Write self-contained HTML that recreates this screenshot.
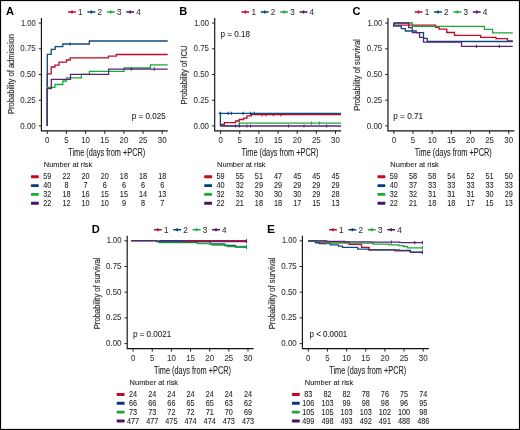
<!DOCTYPE html>
<html><head><meta charset="utf-8"><style>
html,body{margin:0;padding:0;background:#fff;}
svg{display:block;will-change:transform;}
text{font-family:"Liberation Sans",sans-serif;}
</style></head><body>
<svg width="520" height="430" viewBox="0 0 520 430">
<rect x="0" y="0" width="520" height="430" fill="#fff"/>
<g transform="translate(0,0)">
<text x="6.00" y="15.10" font-size="10.8" fill="#000" textLength="8.00" lengthAdjust="spacingAndGlyphs" font-weight="bold">A</text>
<path d="M68.10,12.1H75.90M72.00,10.6V13.6" stroke="#be0a22" stroke-width="1.5" fill="none"/>
<text x="78.10" y="15.00" font-size="8.2" fill="#333" stroke="#333" stroke-width="0.08">1</text>
<path d="M87.50,12.1H95.30M91.40,10.6V13.6" stroke="#053d76" stroke-width="1.5" fill="none"/>
<text x="97.50" y="15.00" font-size="8.2" fill="#333" stroke="#333" stroke-width="0.08">2</text>
<path d="M106.90,12.1H114.70M110.80,10.6V13.6" stroke="#1aa836" stroke-width="1.5" fill="none"/>
<text x="116.90" y="15.00" font-size="8.2" fill="#333" stroke="#333" stroke-width="0.08">3</text>
<path d="M126.30,12.1H134.10M130.20,10.6V13.6" stroke="#4c1264" stroke-width="1.5" fill="none"/>
<text x="136.30" y="15.00" font-size="8.2" fill="#333" stroke="#333" stroke-width="0.08">4</text>
<path d="M41.4,18.0V130.9H167.8" stroke="#111" stroke-width="1.15" fill="none"/>
<path d="M38.7,125.90H41.4" stroke="#222" stroke-width="1.0"/>
<text x="35.70" y="128.50" font-size="9.0" fill="#333" stroke="#333" stroke-width="0.08" text-anchor="end" textLength="15.40" lengthAdjust="spacingAndGlyphs">0.00</text>
<path d="M38.7,100.20H41.4" stroke="#222" stroke-width="1.0"/>
<text x="35.70" y="102.80" font-size="9.0" fill="#333" stroke="#333" stroke-width="0.08" text-anchor="end" textLength="15.40" lengthAdjust="spacingAndGlyphs">0.25</text>
<path d="M38.7,74.50H41.4" stroke="#222" stroke-width="1.0"/>
<text x="35.70" y="77.10" font-size="9.0" fill="#333" stroke="#333" stroke-width="0.08" text-anchor="end" textLength="15.40" lengthAdjust="spacingAndGlyphs">0.50</text>
<path d="M38.7,48.80H41.4" stroke="#222" stroke-width="1.0"/>
<text x="35.70" y="51.40" font-size="9.0" fill="#333" stroke="#333" stroke-width="0.08" text-anchor="end" textLength="15.40" lengthAdjust="spacingAndGlyphs">0.75</text>
<path d="M38.7,23.10H41.4" stroke="#222" stroke-width="1.0"/>
<text x="35.70" y="25.70" font-size="9.0" fill="#333" stroke="#333" stroke-width="0.08" text-anchor="end" textLength="14.80" lengthAdjust="spacingAndGlyphs">1.00</text>
<path d="M47.30,130.9V133.9" stroke="#222" stroke-width="1.0"/>
<text x="47.30" y="143.20" font-size="9.0" fill="#333" stroke="#333" stroke-width="0.08" text-anchor="middle" textLength="4.40" lengthAdjust="spacingAndGlyphs">0</text>
<path d="M66.45,130.9V133.9" stroke="#222" stroke-width="1.0"/>
<text x="66.45" y="143.20" font-size="9.0" fill="#333" stroke="#333" stroke-width="0.08" text-anchor="middle" textLength="4.40" lengthAdjust="spacingAndGlyphs">5</text>
<path d="M85.60,130.9V133.9" stroke="#222" stroke-width="1.0"/>
<text x="85.60" y="143.20" font-size="9.0" fill="#333" stroke="#333" stroke-width="0.08" text-anchor="middle" textLength="8.80" lengthAdjust="spacingAndGlyphs">10</text>
<path d="M104.75,130.9V133.9" stroke="#222" stroke-width="1.0"/>
<text x="104.75" y="143.20" font-size="9.0" fill="#333" stroke="#333" stroke-width="0.08" text-anchor="middle" textLength="8.80" lengthAdjust="spacingAndGlyphs">15</text>
<path d="M123.90,130.9V133.9" stroke="#222" stroke-width="1.0"/>
<text x="123.90" y="143.20" font-size="9.0" fill="#333" stroke="#333" stroke-width="0.08" text-anchor="middle" textLength="8.80" lengthAdjust="spacingAndGlyphs">20</text>
<path d="M143.05,130.9V133.9" stroke="#222" stroke-width="1.0"/>
<text x="143.05" y="143.20" font-size="9.0" fill="#333" stroke="#333" stroke-width="0.08" text-anchor="middle" textLength="8.80" lengthAdjust="spacingAndGlyphs">25</text>
<path d="M162.20,130.9V133.9" stroke="#222" stroke-width="1.0"/>
<text x="162.20" y="143.20" font-size="9.0" fill="#333" stroke="#333" stroke-width="0.08" text-anchor="middle" textLength="8.80" lengthAdjust="spacingAndGlyphs">30</text>
<text x="68.20" y="156.20" font-size="10.0" fill="#222" stroke="#222" stroke-width="0.08" textLength="77.00" lengthAdjust="spacingAndGlyphs">Time (days from +PCR)</text>
<text x="43.80" y="167.30" font-size="7.5" fill="#222" stroke="#222" stroke-width="0.08" textLength="48.50" lengthAdjust="spacingAndGlyphs">Number at risk</text>
<text transform="translate(13.8,74) rotate(-90)" x="0" y="0" font-size="9.5" fill="#333" stroke="#333" stroke-width="0.2" text-anchor="middle" textLength="80" lengthAdjust="spacingAndGlyphs">Probability of admission</text>
<text x="131.80" y="119.20" font-size="8.5" fill="#222" stroke="#222" stroke-width="0.08" textLength="34.00" lengthAdjust="spacingAndGlyphs">p = 0.025</text>
<rect x="30.9" y="175.30" width="7.9" height="2.9" rx="0.7" fill="#be0a22"/>
<text x="47.30" y="179.35" font-size="8.5" fill="#222" stroke="#222" stroke-width="0.08" text-anchor="middle" textLength="8.10" lengthAdjust="spacingAndGlyphs">59</text>
<text x="66.45" y="179.35" font-size="8.5" fill="#222" stroke="#222" stroke-width="0.08" text-anchor="middle" textLength="8.10" lengthAdjust="spacingAndGlyphs">22</text>
<text x="85.60" y="179.35" font-size="8.5" fill="#222" stroke="#222" stroke-width="0.08" text-anchor="middle" textLength="8.10" lengthAdjust="spacingAndGlyphs">20</text>
<text x="104.75" y="179.35" font-size="8.5" fill="#222" stroke="#222" stroke-width="0.08" text-anchor="middle" textLength="8.10" lengthAdjust="spacingAndGlyphs">20</text>
<text x="123.90" y="179.35" font-size="8.5" fill="#222" stroke="#222" stroke-width="0.08" text-anchor="middle" textLength="8.10" lengthAdjust="spacingAndGlyphs">18</text>
<text x="143.05" y="179.35" font-size="8.5" fill="#222" stroke="#222" stroke-width="0.08" text-anchor="middle" textLength="8.10" lengthAdjust="spacingAndGlyphs">18</text>
<text x="162.20" y="179.35" font-size="8.5" fill="#222" stroke="#222" stroke-width="0.08" text-anchor="middle" textLength="8.10" lengthAdjust="spacingAndGlyphs">18</text>
<rect x="30.9" y="184.15" width="7.9" height="2.9" rx="0.7" fill="#053d76"/>
<text x="47.30" y="188.20" font-size="8.5" fill="#222" stroke="#222" stroke-width="0.08" text-anchor="middle" textLength="8.10" lengthAdjust="spacingAndGlyphs">40</text>
<text x="66.45" y="188.20" font-size="8.5" fill="#222" stroke="#222" stroke-width="0.08" text-anchor="middle" textLength="4.05" lengthAdjust="spacingAndGlyphs">8</text>
<text x="85.60" y="188.20" font-size="8.5" fill="#222" stroke="#222" stroke-width="0.08" text-anchor="middle" textLength="4.05" lengthAdjust="spacingAndGlyphs">7</text>
<text x="104.75" y="188.20" font-size="8.5" fill="#222" stroke="#222" stroke-width="0.08" text-anchor="middle" textLength="4.05" lengthAdjust="spacingAndGlyphs">6</text>
<text x="123.90" y="188.20" font-size="8.5" fill="#222" stroke="#222" stroke-width="0.08" text-anchor="middle" textLength="4.05" lengthAdjust="spacingAndGlyphs">6</text>
<text x="143.05" y="188.20" font-size="8.5" fill="#222" stroke="#222" stroke-width="0.08" text-anchor="middle" textLength="4.05" lengthAdjust="spacingAndGlyphs">6</text>
<text x="162.20" y="188.20" font-size="8.5" fill="#222" stroke="#222" stroke-width="0.08" text-anchor="middle" textLength="4.05" lengthAdjust="spacingAndGlyphs">6</text>
<rect x="30.9" y="192.95" width="7.9" height="2.9" rx="0.7" fill="#1aa836"/>
<text x="47.30" y="197.00" font-size="8.5" fill="#222" stroke="#222" stroke-width="0.08" text-anchor="middle" textLength="8.10" lengthAdjust="spacingAndGlyphs">32</text>
<text x="66.45" y="197.00" font-size="8.5" fill="#222" stroke="#222" stroke-width="0.08" text-anchor="middle" textLength="8.10" lengthAdjust="spacingAndGlyphs">18</text>
<text x="85.60" y="197.00" font-size="8.5" fill="#222" stroke="#222" stroke-width="0.08" text-anchor="middle" textLength="8.10" lengthAdjust="spacingAndGlyphs">16</text>
<text x="104.75" y="197.00" font-size="8.5" fill="#222" stroke="#222" stroke-width="0.08" text-anchor="middle" textLength="8.10" lengthAdjust="spacingAndGlyphs">15</text>
<text x="123.90" y="197.00" font-size="8.5" fill="#222" stroke="#222" stroke-width="0.08" text-anchor="middle" textLength="8.10" lengthAdjust="spacingAndGlyphs">15</text>
<text x="143.05" y="197.00" font-size="8.5" fill="#222" stroke="#222" stroke-width="0.08" text-anchor="middle" textLength="8.10" lengthAdjust="spacingAndGlyphs">14</text>
<text x="162.20" y="197.00" font-size="8.5" fill="#222" stroke="#222" stroke-width="0.08" text-anchor="middle" textLength="8.10" lengthAdjust="spacingAndGlyphs">13</text>
<rect x="30.9" y="201.80" width="7.9" height="2.9" rx="0.7" fill="#4c1264"/>
<text x="47.30" y="205.85" font-size="8.5" fill="#222" stroke="#222" stroke-width="0.08" text-anchor="middle" textLength="8.10" lengthAdjust="spacingAndGlyphs">22</text>
<text x="66.45" y="205.85" font-size="8.5" fill="#222" stroke="#222" stroke-width="0.08" text-anchor="middle" textLength="8.10" lengthAdjust="spacingAndGlyphs">12</text>
<text x="85.60" y="205.85" font-size="8.5" fill="#222" stroke="#222" stroke-width="0.08" text-anchor="middle" textLength="8.10" lengthAdjust="spacingAndGlyphs">10</text>
<text x="104.75" y="205.85" font-size="8.5" fill="#222" stroke="#222" stroke-width="0.08" text-anchor="middle" textLength="8.10" lengthAdjust="spacingAndGlyphs">10</text>
<text x="123.90" y="205.85" font-size="8.5" fill="#222" stroke="#222" stroke-width="0.08" text-anchor="middle" textLength="4.05" lengthAdjust="spacingAndGlyphs">9</text>
<text x="143.05" y="205.85" font-size="8.5" fill="#222" stroke="#222" stroke-width="0.08" text-anchor="middle" textLength="4.05" lengthAdjust="spacingAndGlyphs">8</text>
<text x="162.20" y="205.85" font-size="8.5" fill="#222" stroke="#222" stroke-width="0.08" text-anchor="middle" textLength="4.05" lengthAdjust="spacingAndGlyphs">7</text>
<path d="M47.3,125.9V73.8H51.2V67H54.9V65.2H59V62.1H66.5V60H70.2V57.9H108.4V56.2H116.3V54.5H167.7" stroke="#be0a22" stroke-width="1.3" fill="none"/>
<path d="M47.3,125.9V54.4H51.2V49.3H55.1V46.6H62.8V44H89.3V41H167.7" stroke="#0f4a80" stroke-width="1.3" fill="none"/>
<path d="M70.00,42.40V45.60" stroke="#0f4a80" stroke-width="1.1" fill="none"/>
<path d="M47.3,125.9V87.3H54.9V84.5H62.8V81H66.5V77.8H81.4V74.4H89.4V71.4H124V68H150.5V64.9H167.7" stroke="#1aa836" stroke-width="1.3" fill="none"/>
<path d="M47.3,125.9V88.7H51.3V79.4H70.5V74.4H108.6V69.2H167.7" stroke="#5a2478" stroke-width="1.3" fill="none"/>
<path d="M131.30,67.60V70.80M154.30,67.60V70.80" stroke="#5a2478" stroke-width="1.1" fill="none"/>
</g>
<g transform="translate(173.3,0)">
<text x="6.00" y="15.10" font-size="10.8" fill="#000" textLength="8.00" lengthAdjust="spacingAndGlyphs" font-weight="bold">B</text>
<path d="M68.10,12.1H75.90M72.00,10.6V13.6" stroke="#be0a22" stroke-width="1.5" fill="none"/>
<text x="78.10" y="15.00" font-size="8.2" fill="#333" stroke="#333" stroke-width="0.08">1</text>
<path d="M87.50,12.1H95.30M91.40,10.6V13.6" stroke="#053d76" stroke-width="1.5" fill="none"/>
<text x="97.50" y="15.00" font-size="8.2" fill="#333" stroke="#333" stroke-width="0.08">2</text>
<path d="M106.90,12.1H114.70M110.80,10.6V13.6" stroke="#1aa836" stroke-width="1.5" fill="none"/>
<text x="116.90" y="15.00" font-size="8.2" fill="#333" stroke="#333" stroke-width="0.08">3</text>
<path d="M126.30,12.1H134.10M130.20,10.6V13.6" stroke="#4c1264" stroke-width="1.5" fill="none"/>
<text x="136.30" y="15.00" font-size="8.2" fill="#333" stroke="#333" stroke-width="0.08">4</text>
<path d="M41.4,18.0V130.9H167.8" stroke="#111" stroke-width="1.15" fill="none"/>
<path d="M38.7,125.90H41.4" stroke="#222" stroke-width="1.0"/>
<text x="35.70" y="128.50" font-size="9.0" fill="#333" stroke="#333" stroke-width="0.08" text-anchor="end" textLength="15.40" lengthAdjust="spacingAndGlyphs">0.00</text>
<path d="M38.7,100.20H41.4" stroke="#222" stroke-width="1.0"/>
<text x="35.70" y="102.80" font-size="9.0" fill="#333" stroke="#333" stroke-width="0.08" text-anchor="end" textLength="15.40" lengthAdjust="spacingAndGlyphs">0.25</text>
<path d="M38.7,74.50H41.4" stroke="#222" stroke-width="1.0"/>
<text x="35.70" y="77.10" font-size="9.0" fill="#333" stroke="#333" stroke-width="0.08" text-anchor="end" textLength="15.40" lengthAdjust="spacingAndGlyphs">0.50</text>
<path d="M38.7,48.80H41.4" stroke="#222" stroke-width="1.0"/>
<text x="35.70" y="51.40" font-size="9.0" fill="#333" stroke="#333" stroke-width="0.08" text-anchor="end" textLength="15.40" lengthAdjust="spacingAndGlyphs">0.75</text>
<path d="M38.7,23.10H41.4" stroke="#222" stroke-width="1.0"/>
<text x="35.70" y="25.70" font-size="9.0" fill="#333" stroke="#333" stroke-width="0.08" text-anchor="end" textLength="14.80" lengthAdjust="spacingAndGlyphs">1.00</text>
<path d="M47.30,130.9V133.9" stroke="#222" stroke-width="1.0"/>
<text x="47.30" y="143.20" font-size="9.0" fill="#333" stroke="#333" stroke-width="0.08" text-anchor="middle" textLength="4.40" lengthAdjust="spacingAndGlyphs">0</text>
<path d="M66.45,130.9V133.9" stroke="#222" stroke-width="1.0"/>
<text x="66.45" y="143.20" font-size="9.0" fill="#333" stroke="#333" stroke-width="0.08" text-anchor="middle" textLength="4.40" lengthAdjust="spacingAndGlyphs">5</text>
<path d="M85.60,130.9V133.9" stroke="#222" stroke-width="1.0"/>
<text x="85.60" y="143.20" font-size="9.0" fill="#333" stroke="#333" stroke-width="0.08" text-anchor="middle" textLength="8.80" lengthAdjust="spacingAndGlyphs">10</text>
<path d="M104.75,130.9V133.9" stroke="#222" stroke-width="1.0"/>
<text x="104.75" y="143.20" font-size="9.0" fill="#333" stroke="#333" stroke-width="0.08" text-anchor="middle" textLength="8.80" lengthAdjust="spacingAndGlyphs">15</text>
<path d="M123.90,130.9V133.9" stroke="#222" stroke-width="1.0"/>
<text x="123.90" y="143.20" font-size="9.0" fill="#333" stroke="#333" stroke-width="0.08" text-anchor="middle" textLength="8.80" lengthAdjust="spacingAndGlyphs">20</text>
<path d="M143.05,130.9V133.9" stroke="#222" stroke-width="1.0"/>
<text x="143.05" y="143.20" font-size="9.0" fill="#333" stroke="#333" stroke-width="0.08" text-anchor="middle" textLength="8.80" lengthAdjust="spacingAndGlyphs">25</text>
<path d="M162.20,130.9V133.9" stroke="#222" stroke-width="1.0"/>
<text x="162.20" y="143.20" font-size="9.0" fill="#333" stroke="#333" stroke-width="0.08" text-anchor="middle" textLength="8.80" lengthAdjust="spacingAndGlyphs">30</text>
<text x="68.20" y="156.20" font-size="10.0" fill="#222" stroke="#222" stroke-width="0.08" textLength="77.00" lengthAdjust="spacingAndGlyphs">Time (days from +PCR)</text>
<text x="43.80" y="167.30" font-size="7.5" fill="#222" stroke="#222" stroke-width="0.08" textLength="48.50" lengthAdjust="spacingAndGlyphs">Number at risk</text>
<text transform="translate(13.8,75) rotate(-90)" x="0" y="0" font-size="9.5" fill="#333" stroke="#333" stroke-width="0.2" text-anchor="middle" textLength="58.8" lengthAdjust="spacingAndGlyphs">Probability of ICU</text>
<text x="47.10" y="37.00" font-size="8.5" fill="#222" stroke="#222" stroke-width="0.08" textLength="29.60" lengthAdjust="spacingAndGlyphs">p = 0.18</text>
<rect x="30.9" y="175.30" width="7.9" height="2.9" rx="0.7" fill="#be0a22"/>
<text x="47.30" y="179.35" font-size="8.5" fill="#222" stroke="#222" stroke-width="0.08" text-anchor="middle" textLength="8.10" lengthAdjust="spacingAndGlyphs">59</text>
<text x="66.45" y="179.35" font-size="8.5" fill="#222" stroke="#222" stroke-width="0.08" text-anchor="middle" textLength="8.10" lengthAdjust="spacingAndGlyphs">55</text>
<text x="85.60" y="179.35" font-size="8.5" fill="#222" stroke="#222" stroke-width="0.08" text-anchor="middle" textLength="8.10" lengthAdjust="spacingAndGlyphs">51</text>
<text x="104.75" y="179.35" font-size="8.5" fill="#222" stroke="#222" stroke-width="0.08" text-anchor="middle" textLength="8.10" lengthAdjust="spacingAndGlyphs">47</text>
<text x="123.90" y="179.35" font-size="8.5" fill="#222" stroke="#222" stroke-width="0.08" text-anchor="middle" textLength="8.10" lengthAdjust="spacingAndGlyphs">45</text>
<text x="143.05" y="179.35" font-size="8.5" fill="#222" stroke="#222" stroke-width="0.08" text-anchor="middle" textLength="8.10" lengthAdjust="spacingAndGlyphs">45</text>
<text x="162.20" y="179.35" font-size="8.5" fill="#222" stroke="#222" stroke-width="0.08" text-anchor="middle" textLength="8.10" lengthAdjust="spacingAndGlyphs">45</text>
<rect x="30.9" y="184.15" width="7.9" height="2.9" rx="0.7" fill="#053d76"/>
<text x="47.30" y="188.20" font-size="8.5" fill="#222" stroke="#222" stroke-width="0.08" text-anchor="middle" textLength="8.10" lengthAdjust="spacingAndGlyphs">40</text>
<text x="66.45" y="188.20" font-size="8.5" fill="#222" stroke="#222" stroke-width="0.08" text-anchor="middle" textLength="8.10" lengthAdjust="spacingAndGlyphs">32</text>
<text x="85.60" y="188.20" font-size="8.5" fill="#222" stroke="#222" stroke-width="0.08" text-anchor="middle" textLength="8.10" lengthAdjust="spacingAndGlyphs">29</text>
<text x="104.75" y="188.20" font-size="8.5" fill="#222" stroke="#222" stroke-width="0.08" text-anchor="middle" textLength="8.10" lengthAdjust="spacingAndGlyphs">29</text>
<text x="123.90" y="188.20" font-size="8.5" fill="#222" stroke="#222" stroke-width="0.08" text-anchor="middle" textLength="8.10" lengthAdjust="spacingAndGlyphs">29</text>
<text x="143.05" y="188.20" font-size="8.5" fill="#222" stroke="#222" stroke-width="0.08" text-anchor="middle" textLength="8.10" lengthAdjust="spacingAndGlyphs">29</text>
<text x="162.20" y="188.20" font-size="8.5" fill="#222" stroke="#222" stroke-width="0.08" text-anchor="middle" textLength="8.10" lengthAdjust="spacingAndGlyphs">29</text>
<rect x="30.9" y="192.95" width="7.9" height="2.9" rx="0.7" fill="#1aa836"/>
<text x="47.30" y="197.00" font-size="8.5" fill="#222" stroke="#222" stroke-width="0.08" text-anchor="middle" textLength="8.10" lengthAdjust="spacingAndGlyphs">32</text>
<text x="66.45" y="197.00" font-size="8.5" fill="#222" stroke="#222" stroke-width="0.08" text-anchor="middle" textLength="8.10" lengthAdjust="spacingAndGlyphs">32</text>
<text x="85.60" y="197.00" font-size="8.5" fill="#222" stroke="#222" stroke-width="0.08" text-anchor="middle" textLength="8.10" lengthAdjust="spacingAndGlyphs">30</text>
<text x="104.75" y="197.00" font-size="8.5" fill="#222" stroke="#222" stroke-width="0.08" text-anchor="middle" textLength="8.10" lengthAdjust="spacingAndGlyphs">30</text>
<text x="123.90" y="197.00" font-size="8.5" fill="#222" stroke="#222" stroke-width="0.08" text-anchor="middle" textLength="8.10" lengthAdjust="spacingAndGlyphs">30</text>
<text x="143.05" y="197.00" font-size="8.5" fill="#222" stroke="#222" stroke-width="0.08" text-anchor="middle" textLength="8.10" lengthAdjust="spacingAndGlyphs">29</text>
<text x="162.20" y="197.00" font-size="8.5" fill="#222" stroke="#222" stroke-width="0.08" text-anchor="middle" textLength="8.10" lengthAdjust="spacingAndGlyphs">28</text>
<rect x="30.9" y="201.80" width="7.9" height="2.9" rx="0.7" fill="#4c1264"/>
<text x="47.30" y="205.85" font-size="8.5" fill="#222" stroke="#222" stroke-width="0.08" text-anchor="middle" textLength="8.10" lengthAdjust="spacingAndGlyphs">22</text>
<text x="66.45" y="205.85" font-size="8.5" fill="#222" stroke="#222" stroke-width="0.08" text-anchor="middle" textLength="8.10" lengthAdjust="spacingAndGlyphs">21</text>
<text x="85.60" y="205.85" font-size="8.5" fill="#222" stroke="#222" stroke-width="0.08" text-anchor="middle" textLength="8.10" lengthAdjust="spacingAndGlyphs">18</text>
<text x="104.75" y="205.85" font-size="8.5" fill="#222" stroke="#222" stroke-width="0.08" text-anchor="middle" textLength="8.10" lengthAdjust="spacingAndGlyphs">18</text>
<text x="123.90" y="205.85" font-size="8.5" fill="#222" stroke="#222" stroke-width="0.08" text-anchor="middle" textLength="8.10" lengthAdjust="spacingAndGlyphs">17</text>
<text x="143.05" y="205.85" font-size="8.5" fill="#222" stroke="#222" stroke-width="0.08" text-anchor="middle" textLength="8.10" lengthAdjust="spacingAndGlyphs">15</text>
<text x="162.20" y="205.85" font-size="8.5" fill="#222" stroke="#222" stroke-width="0.08" text-anchor="middle" textLength="8.10" lengthAdjust="spacingAndGlyphs">13</text>
<path d="M47.10,125.80V124.40H51.10V122.70H62.20V121.00H65.90V119.50H70.30V118.10H73.70V115.80H78.00V114.60H167.70" stroke="#be0a22" stroke-width="1.3" fill="none"/>
<path d="M88.70,113.00V116.20M92.60,113.00V116.20M100.00,113.00V116.20M107.50,113.00V116.20" stroke="#be0a22" stroke-width="1.1" fill="none"/>
<path d="M47.10,125.80V113.30H167.70M45.20,113.30H47.70" stroke="#0f4a80" stroke-width="1.3" fill="none"/>
<path d="M47.10,111.70V114.90M54.80,111.70V114.90M58.00,111.70V114.90M69.80,111.70V114.90M77.20,111.70V114.90M80.90,111.70V114.90" stroke="#0f4a80" stroke-width="1.1" fill="none"/>
<path d="M47.10,125.80H66.00V123.10H167.70" stroke="#1aa836" stroke-width="1.3" fill="none"/>
<path d="M66.00,121.50V124.70M138.20,121.50V124.70M146.00,121.50V124.70" stroke="#1aa836" stroke-width="1.1" fill="none"/>
<path d="M47.10,126.00H167.70" stroke="#5a2478" stroke-width="1.3" fill="none"/>
<path d="M62.30,124.40V127.60M66.20,124.40V127.60M73.60,124.40V127.60M77.20,124.40V127.60M115.20,124.40V127.60M130.70,124.40V127.60M153.30,124.40V127.60" stroke="#5a2478" stroke-width="1.1" fill="none"/>
</g>
<g transform="translate(346.55,0)">
<text x="6.00" y="15.10" font-size="10.8" fill="#000" textLength="8.00" lengthAdjust="spacingAndGlyphs" font-weight="bold">C</text>
<path d="M68.10,12.1H75.90M72.00,10.6V13.6" stroke="#be0a22" stroke-width="1.5" fill="none"/>
<text x="78.10" y="15.00" font-size="8.2" fill="#333" stroke="#333" stroke-width="0.08">1</text>
<path d="M87.50,12.1H95.30M91.40,10.6V13.6" stroke="#053d76" stroke-width="1.5" fill="none"/>
<text x="97.50" y="15.00" font-size="8.2" fill="#333" stroke="#333" stroke-width="0.08">2</text>
<path d="M106.90,12.1H114.70M110.80,10.6V13.6" stroke="#1aa836" stroke-width="1.5" fill="none"/>
<text x="116.90" y="15.00" font-size="8.2" fill="#333" stroke="#333" stroke-width="0.08">3</text>
<path d="M126.30,12.1H134.10M130.20,10.6V13.6" stroke="#4c1264" stroke-width="1.5" fill="none"/>
<text x="136.30" y="15.00" font-size="8.2" fill="#333" stroke="#333" stroke-width="0.08">4</text>
<path d="M41.4,18.0V130.9H167.8" stroke="#111" stroke-width="1.15" fill="none"/>
<path d="M38.7,125.90H41.4" stroke="#222" stroke-width="1.0"/>
<text x="35.70" y="128.50" font-size="9.0" fill="#333" stroke="#333" stroke-width="0.08" text-anchor="end" textLength="15.40" lengthAdjust="spacingAndGlyphs">0.00</text>
<path d="M38.7,100.20H41.4" stroke="#222" stroke-width="1.0"/>
<text x="35.70" y="102.80" font-size="9.0" fill="#333" stroke="#333" stroke-width="0.08" text-anchor="end" textLength="15.40" lengthAdjust="spacingAndGlyphs">0.25</text>
<path d="M38.7,74.50H41.4" stroke="#222" stroke-width="1.0"/>
<text x="35.70" y="77.10" font-size="9.0" fill="#333" stroke="#333" stroke-width="0.08" text-anchor="end" textLength="15.40" lengthAdjust="spacingAndGlyphs">0.50</text>
<path d="M38.7,48.80H41.4" stroke="#222" stroke-width="1.0"/>
<text x="35.70" y="51.40" font-size="9.0" fill="#333" stroke="#333" stroke-width="0.08" text-anchor="end" textLength="15.40" lengthAdjust="spacingAndGlyphs">0.75</text>
<path d="M38.7,23.10H41.4" stroke="#222" stroke-width="1.0"/>
<text x="35.70" y="25.70" font-size="9.0" fill="#333" stroke="#333" stroke-width="0.08" text-anchor="end" textLength="14.80" lengthAdjust="spacingAndGlyphs">1.00</text>
<path d="M47.30,130.9V133.9" stroke="#222" stroke-width="1.0"/>
<text x="47.30" y="143.20" font-size="9.0" fill="#333" stroke="#333" stroke-width="0.08" text-anchor="middle" textLength="4.40" lengthAdjust="spacingAndGlyphs">0</text>
<path d="M66.45,130.9V133.9" stroke="#222" stroke-width="1.0"/>
<text x="66.45" y="143.20" font-size="9.0" fill="#333" stroke="#333" stroke-width="0.08" text-anchor="middle" textLength="4.40" lengthAdjust="spacingAndGlyphs">5</text>
<path d="M85.60,130.9V133.9" stroke="#222" stroke-width="1.0"/>
<text x="85.60" y="143.20" font-size="9.0" fill="#333" stroke="#333" stroke-width="0.08" text-anchor="middle" textLength="8.80" lengthAdjust="spacingAndGlyphs">10</text>
<path d="M104.75,130.9V133.9" stroke="#222" stroke-width="1.0"/>
<text x="104.75" y="143.20" font-size="9.0" fill="#333" stroke="#333" stroke-width="0.08" text-anchor="middle" textLength="8.80" lengthAdjust="spacingAndGlyphs">15</text>
<path d="M123.90,130.9V133.9" stroke="#222" stroke-width="1.0"/>
<text x="123.90" y="143.20" font-size="9.0" fill="#333" stroke="#333" stroke-width="0.08" text-anchor="middle" textLength="8.80" lengthAdjust="spacingAndGlyphs">20</text>
<path d="M143.05,130.9V133.9" stroke="#222" stroke-width="1.0"/>
<text x="143.05" y="143.20" font-size="9.0" fill="#333" stroke="#333" stroke-width="0.08" text-anchor="middle" textLength="8.80" lengthAdjust="spacingAndGlyphs">25</text>
<path d="M162.20,130.9V133.9" stroke="#222" stroke-width="1.0"/>
<text x="162.20" y="143.20" font-size="9.0" fill="#333" stroke="#333" stroke-width="0.08" text-anchor="middle" textLength="8.80" lengthAdjust="spacingAndGlyphs">30</text>
<text x="68.20" y="156.20" font-size="10.0" fill="#222" stroke="#222" stroke-width="0.08" textLength="77.00" lengthAdjust="spacingAndGlyphs">Time (days from +PCR)</text>
<text x="43.80" y="167.30" font-size="7.5" fill="#222" stroke="#222" stroke-width="0.08" textLength="48.50" lengthAdjust="spacingAndGlyphs">Number at risk</text>
<text transform="translate(13.8,75) rotate(-90)" x="0" y="0" font-size="9.5" fill="#333" stroke="#333" stroke-width="0.2" text-anchor="middle" textLength="71.6" lengthAdjust="spacingAndGlyphs">Probability of survival</text>
<text x="46.75" y="119.20" font-size="8.5" fill="#222" stroke="#222" stroke-width="0.08" textLength="29.80" lengthAdjust="spacingAndGlyphs">p = 0.71</text>
<rect x="30.9" y="175.30" width="7.9" height="2.9" rx="0.7" fill="#be0a22"/>
<text x="47.30" y="179.35" font-size="8.5" fill="#222" stroke="#222" stroke-width="0.08" text-anchor="middle" textLength="8.10" lengthAdjust="spacingAndGlyphs">59</text>
<text x="66.45" y="179.35" font-size="8.5" fill="#222" stroke="#222" stroke-width="0.08" text-anchor="middle" textLength="8.10" lengthAdjust="spacingAndGlyphs">58</text>
<text x="85.60" y="179.35" font-size="8.5" fill="#222" stroke="#222" stroke-width="0.08" text-anchor="middle" textLength="8.10" lengthAdjust="spacingAndGlyphs">58</text>
<text x="104.75" y="179.35" font-size="8.5" fill="#222" stroke="#222" stroke-width="0.08" text-anchor="middle" textLength="8.10" lengthAdjust="spacingAndGlyphs">54</text>
<text x="123.90" y="179.35" font-size="8.5" fill="#222" stroke="#222" stroke-width="0.08" text-anchor="middle" textLength="8.10" lengthAdjust="spacingAndGlyphs">52</text>
<text x="143.05" y="179.35" font-size="8.5" fill="#222" stroke="#222" stroke-width="0.08" text-anchor="middle" textLength="8.10" lengthAdjust="spacingAndGlyphs">51</text>
<text x="162.20" y="179.35" font-size="8.5" fill="#222" stroke="#222" stroke-width="0.08" text-anchor="middle" textLength="8.10" lengthAdjust="spacingAndGlyphs">50</text>
<rect x="30.9" y="184.15" width="7.9" height="2.9" rx="0.7" fill="#053d76"/>
<text x="47.30" y="188.20" font-size="8.5" fill="#222" stroke="#222" stroke-width="0.08" text-anchor="middle" textLength="8.10" lengthAdjust="spacingAndGlyphs">40</text>
<text x="66.45" y="188.20" font-size="8.5" fill="#222" stroke="#222" stroke-width="0.08" text-anchor="middle" textLength="8.10" lengthAdjust="spacingAndGlyphs">37</text>
<text x="85.60" y="188.20" font-size="8.5" fill="#222" stroke="#222" stroke-width="0.08" text-anchor="middle" textLength="8.10" lengthAdjust="spacingAndGlyphs">33</text>
<text x="104.75" y="188.20" font-size="8.5" fill="#222" stroke="#222" stroke-width="0.08" text-anchor="middle" textLength="8.10" lengthAdjust="spacingAndGlyphs">33</text>
<text x="123.90" y="188.20" font-size="8.5" fill="#222" stroke="#222" stroke-width="0.08" text-anchor="middle" textLength="8.10" lengthAdjust="spacingAndGlyphs">33</text>
<text x="143.05" y="188.20" font-size="8.5" fill="#222" stroke="#222" stroke-width="0.08" text-anchor="middle" textLength="8.10" lengthAdjust="spacingAndGlyphs">33</text>
<text x="162.20" y="188.20" font-size="8.5" fill="#222" stroke="#222" stroke-width="0.08" text-anchor="middle" textLength="8.10" lengthAdjust="spacingAndGlyphs">33</text>
<rect x="30.9" y="192.95" width="7.9" height="2.9" rx="0.7" fill="#1aa836"/>
<text x="47.30" y="197.00" font-size="8.5" fill="#222" stroke="#222" stroke-width="0.08" text-anchor="middle" textLength="8.10" lengthAdjust="spacingAndGlyphs">32</text>
<text x="66.45" y="197.00" font-size="8.5" fill="#222" stroke="#222" stroke-width="0.08" text-anchor="middle" textLength="8.10" lengthAdjust="spacingAndGlyphs">32</text>
<text x="85.60" y="197.00" font-size="8.5" fill="#222" stroke="#222" stroke-width="0.08" text-anchor="middle" textLength="8.10" lengthAdjust="spacingAndGlyphs">31</text>
<text x="104.75" y="197.00" font-size="8.5" fill="#222" stroke="#222" stroke-width="0.08" text-anchor="middle" textLength="8.10" lengthAdjust="spacingAndGlyphs">31</text>
<text x="123.90" y="197.00" font-size="8.5" fill="#222" stroke="#222" stroke-width="0.08" text-anchor="middle" textLength="8.10" lengthAdjust="spacingAndGlyphs">31</text>
<text x="143.05" y="197.00" font-size="8.5" fill="#222" stroke="#222" stroke-width="0.08" text-anchor="middle" textLength="8.10" lengthAdjust="spacingAndGlyphs">30</text>
<text x="162.20" y="197.00" font-size="8.5" fill="#222" stroke="#222" stroke-width="0.08" text-anchor="middle" textLength="8.10" lengthAdjust="spacingAndGlyphs">29</text>
<rect x="30.9" y="201.80" width="7.9" height="2.9" rx="0.7" fill="#4c1264"/>
<text x="47.30" y="205.85" font-size="8.5" fill="#222" stroke="#222" stroke-width="0.08" text-anchor="middle" textLength="8.10" lengthAdjust="spacingAndGlyphs">22</text>
<text x="66.45" y="205.85" font-size="8.5" fill="#222" stroke="#222" stroke-width="0.08" text-anchor="middle" textLength="8.10" lengthAdjust="spacingAndGlyphs">21</text>
<text x="85.60" y="205.85" font-size="8.5" fill="#222" stroke="#222" stroke-width="0.08" text-anchor="middle" textLength="8.10" lengthAdjust="spacingAndGlyphs">18</text>
<text x="104.75" y="205.85" font-size="8.5" fill="#222" stroke="#222" stroke-width="0.08" text-anchor="middle" textLength="8.10" lengthAdjust="spacingAndGlyphs">18</text>
<text x="123.90" y="205.85" font-size="8.5" fill="#222" stroke="#222" stroke-width="0.08" text-anchor="middle" textLength="8.10" lengthAdjust="spacingAndGlyphs">17</text>
<text x="143.05" y="205.85" font-size="8.5" fill="#222" stroke="#222" stroke-width="0.08" text-anchor="middle" textLength="8.10" lengthAdjust="spacingAndGlyphs">15</text>
<text x="162.20" y="205.85" font-size="8.5" fill="#222" stroke="#222" stroke-width="0.08" text-anchor="middle" textLength="8.10" lengthAdjust="spacingAndGlyphs">13</text>
<path d="M47.15,23.00V25.20H89.05V27.30H92.55V29.20H100.25V32.50H107.95V35.40H134.05V37.30H149.45V38.60H160.95V41.00H166.25" stroke="#be0a22" stroke-width="1.3" fill="none"/>
<path d="M47.15,23.00V26.10H54.75V28.70H58.75V31.00H69.65V32.70H76.95V38.30H80.75V41.50H166.25" stroke="#0f4a80" stroke-width="1.3" fill="none"/>
<path d="M47.15,23.00H65.65V26.30H137.85V29.40H146.05V32.80H166.25" stroke="#1aa836" stroke-width="1.3" fill="none"/>
<path d="M47.15,23.00H62.15V27.60H65.75V32.70H73.05V37.30H76.95V42.20H114.95V46.40H166.25" stroke="#5a2478" stroke-width="1.3" fill="none"/>
<path d="M129.95,44.80V48.00M152.75,44.80V48.00" stroke="#5a2478" stroke-width="1.1" fill="none"/>
</g>
<g transform="translate(85.8,217.7)">
<text x="6.00" y="15.10" font-size="10.8" fill="#000" textLength="8.00" lengthAdjust="spacingAndGlyphs" font-weight="bold">D</text>
<path d="M68.10,12.1H75.90M72.00,10.6V13.6" stroke="#be0a22" stroke-width="1.5" fill="none"/>
<text x="78.10" y="15.00" font-size="8.2" fill="#333" stroke="#333" stroke-width="0.08">1</text>
<path d="M87.50,12.1H95.30M91.40,10.6V13.6" stroke="#053d76" stroke-width="1.5" fill="none"/>
<text x="97.50" y="15.00" font-size="8.2" fill="#333" stroke="#333" stroke-width="0.08">2</text>
<path d="M106.90,12.1H114.70M110.80,10.6V13.6" stroke="#1aa836" stroke-width="1.5" fill="none"/>
<text x="116.90" y="15.00" font-size="8.2" fill="#333" stroke="#333" stroke-width="0.08">3</text>
<path d="M126.30,12.1H134.10M130.20,10.6V13.6" stroke="#4c1264" stroke-width="1.5" fill="none"/>
<text x="136.30" y="15.00" font-size="8.2" fill="#333" stroke="#333" stroke-width="0.08">4</text>
<path d="M41.4,18.0V130.9H167.8" stroke="#111" stroke-width="1.15" fill="none"/>
<path d="M38.7,125.90H41.4" stroke="#222" stroke-width="1.0"/>
<text x="35.70" y="128.50" font-size="9.0" fill="#333" stroke="#333" stroke-width="0.08" text-anchor="end" textLength="15.40" lengthAdjust="spacingAndGlyphs">0.00</text>
<path d="M38.7,100.20H41.4" stroke="#222" stroke-width="1.0"/>
<text x="35.70" y="102.80" font-size="9.0" fill="#333" stroke="#333" stroke-width="0.08" text-anchor="end" textLength="15.40" lengthAdjust="spacingAndGlyphs">0.25</text>
<path d="M38.7,74.50H41.4" stroke="#222" stroke-width="1.0"/>
<text x="35.70" y="77.10" font-size="9.0" fill="#333" stroke="#333" stroke-width="0.08" text-anchor="end" textLength="15.40" lengthAdjust="spacingAndGlyphs">0.50</text>
<path d="M38.7,48.80H41.4" stroke="#222" stroke-width="1.0"/>
<text x="35.70" y="51.40" font-size="9.0" fill="#333" stroke="#333" stroke-width="0.08" text-anchor="end" textLength="15.40" lengthAdjust="spacingAndGlyphs">0.75</text>
<path d="M38.7,23.10H41.4" stroke="#222" stroke-width="1.0"/>
<text x="35.70" y="25.70" font-size="9.0" fill="#333" stroke="#333" stroke-width="0.08" text-anchor="end" textLength="14.80" lengthAdjust="spacingAndGlyphs">1.00</text>
<path d="M47.30,130.9V133.9" stroke="#222" stroke-width="1.0"/>
<text x="47.30" y="143.20" font-size="9.0" fill="#333" stroke="#333" stroke-width="0.08" text-anchor="middle" textLength="4.40" lengthAdjust="spacingAndGlyphs">0</text>
<path d="M66.45,130.9V133.9" stroke="#222" stroke-width="1.0"/>
<text x="66.45" y="143.20" font-size="9.0" fill="#333" stroke="#333" stroke-width="0.08" text-anchor="middle" textLength="4.40" lengthAdjust="spacingAndGlyphs">5</text>
<path d="M85.60,130.9V133.9" stroke="#222" stroke-width="1.0"/>
<text x="85.60" y="143.20" font-size="9.0" fill="#333" stroke="#333" stroke-width="0.08" text-anchor="middle" textLength="8.80" lengthAdjust="spacingAndGlyphs">10</text>
<path d="M104.75,130.9V133.9" stroke="#222" stroke-width="1.0"/>
<text x="104.75" y="143.20" font-size="9.0" fill="#333" stroke="#333" stroke-width="0.08" text-anchor="middle" textLength="8.80" lengthAdjust="spacingAndGlyphs">15</text>
<path d="M123.90,130.9V133.9" stroke="#222" stroke-width="1.0"/>
<text x="123.90" y="143.20" font-size="9.0" fill="#333" stroke="#333" stroke-width="0.08" text-anchor="middle" textLength="8.80" lengthAdjust="spacingAndGlyphs">20</text>
<path d="M143.05,130.9V133.9" stroke="#222" stroke-width="1.0"/>
<text x="143.05" y="143.20" font-size="9.0" fill="#333" stroke="#333" stroke-width="0.08" text-anchor="middle" textLength="8.80" lengthAdjust="spacingAndGlyphs">25</text>
<path d="M162.20,130.9V133.9" stroke="#222" stroke-width="1.0"/>
<text x="162.20" y="143.20" font-size="9.0" fill="#333" stroke="#333" stroke-width="0.08" text-anchor="middle" textLength="8.80" lengthAdjust="spacingAndGlyphs">30</text>
<text x="68.20" y="156.20" font-size="10.0" fill="#222" stroke="#222" stroke-width="0.08" textLength="77.00" lengthAdjust="spacingAndGlyphs">Time (days from +PCR)</text>
<text x="43.80" y="167.30" font-size="7.5" fill="#222" stroke="#222" stroke-width="0.08" textLength="48.50" lengthAdjust="spacingAndGlyphs">Number at risk</text>
<text transform="translate(13.8,75.7) rotate(-90)" x="0" y="0" font-size="9.5" fill="#333" stroke="#333" stroke-width="0.2" text-anchor="middle" textLength="71.6" lengthAdjust="spacingAndGlyphs">Probability of survival</text>
<text x="47.20" y="119.80" font-size="8.5" fill="#222" stroke="#222" stroke-width="0.08" textLength="38.20" lengthAdjust="spacingAndGlyphs">p = 0.0021</text>
<rect x="30.9" y="175.30" width="7.9" height="2.9" rx="0.7" fill="#be0a22"/>
<text x="47.30" y="179.35" font-size="8.5" fill="#222" stroke="#222" stroke-width="0.08" text-anchor="middle" textLength="8.10" lengthAdjust="spacingAndGlyphs">24</text>
<text x="66.45" y="179.35" font-size="8.5" fill="#222" stroke="#222" stroke-width="0.08" text-anchor="middle" textLength="8.10" lengthAdjust="spacingAndGlyphs">24</text>
<text x="85.60" y="179.35" font-size="8.5" fill="#222" stroke="#222" stroke-width="0.08" text-anchor="middle" textLength="8.10" lengthAdjust="spacingAndGlyphs">24</text>
<text x="104.75" y="179.35" font-size="8.5" fill="#222" stroke="#222" stroke-width="0.08" text-anchor="middle" textLength="8.10" lengthAdjust="spacingAndGlyphs">24</text>
<text x="123.90" y="179.35" font-size="8.5" fill="#222" stroke="#222" stroke-width="0.08" text-anchor="middle" textLength="8.10" lengthAdjust="spacingAndGlyphs">24</text>
<text x="143.05" y="179.35" font-size="8.5" fill="#222" stroke="#222" stroke-width="0.08" text-anchor="middle" textLength="8.10" lengthAdjust="spacingAndGlyphs">24</text>
<text x="162.20" y="179.35" font-size="8.5" fill="#222" stroke="#222" stroke-width="0.08" text-anchor="middle" textLength="8.10" lengthAdjust="spacingAndGlyphs">24</text>
<rect x="30.9" y="184.15" width="7.9" height="2.9" rx="0.7" fill="#053d76"/>
<text x="47.30" y="188.20" font-size="8.5" fill="#222" stroke="#222" stroke-width="0.08" text-anchor="middle" textLength="8.10" lengthAdjust="spacingAndGlyphs">66</text>
<text x="66.45" y="188.20" font-size="8.5" fill="#222" stroke="#222" stroke-width="0.08" text-anchor="middle" textLength="8.10" lengthAdjust="spacingAndGlyphs">66</text>
<text x="85.60" y="188.20" font-size="8.5" fill="#222" stroke="#222" stroke-width="0.08" text-anchor="middle" textLength="8.10" lengthAdjust="spacingAndGlyphs">66</text>
<text x="104.75" y="188.20" font-size="8.5" fill="#222" stroke="#222" stroke-width="0.08" text-anchor="middle" textLength="8.10" lengthAdjust="spacingAndGlyphs">65</text>
<text x="123.90" y="188.20" font-size="8.5" fill="#222" stroke="#222" stroke-width="0.08" text-anchor="middle" textLength="8.10" lengthAdjust="spacingAndGlyphs">65</text>
<text x="143.05" y="188.20" font-size="8.5" fill="#222" stroke="#222" stroke-width="0.08" text-anchor="middle" textLength="8.10" lengthAdjust="spacingAndGlyphs">63</text>
<text x="162.20" y="188.20" font-size="8.5" fill="#222" stroke="#222" stroke-width="0.08" text-anchor="middle" textLength="8.10" lengthAdjust="spacingAndGlyphs">62</text>
<rect x="30.9" y="192.95" width="7.9" height="2.9" rx="0.7" fill="#1aa836"/>
<text x="47.30" y="197.00" font-size="8.5" fill="#222" stroke="#222" stroke-width="0.08" text-anchor="middle" textLength="8.10" lengthAdjust="spacingAndGlyphs">73</text>
<text x="66.45" y="197.00" font-size="8.5" fill="#222" stroke="#222" stroke-width="0.08" text-anchor="middle" textLength="8.10" lengthAdjust="spacingAndGlyphs">73</text>
<text x="85.60" y="197.00" font-size="8.5" fill="#222" stroke="#222" stroke-width="0.08" text-anchor="middle" textLength="8.10" lengthAdjust="spacingAndGlyphs">72</text>
<text x="104.75" y="197.00" font-size="8.5" fill="#222" stroke="#222" stroke-width="0.08" text-anchor="middle" textLength="8.10" lengthAdjust="spacingAndGlyphs">72</text>
<text x="123.90" y="197.00" font-size="8.5" fill="#222" stroke="#222" stroke-width="0.08" text-anchor="middle" textLength="8.10" lengthAdjust="spacingAndGlyphs">71</text>
<text x="143.05" y="197.00" font-size="8.5" fill="#222" stroke="#222" stroke-width="0.08" text-anchor="middle" textLength="8.10" lengthAdjust="spacingAndGlyphs">70</text>
<text x="162.20" y="197.00" font-size="8.5" fill="#222" stroke="#222" stroke-width="0.08" text-anchor="middle" textLength="8.10" lengthAdjust="spacingAndGlyphs">69</text>
<rect x="30.9" y="201.80" width="7.9" height="2.9" rx="0.7" fill="#4c1264"/>
<text x="47.30" y="205.85" font-size="8.5" fill="#222" stroke="#222" stroke-width="0.08" text-anchor="middle" textLength="12.15" lengthAdjust="spacingAndGlyphs">477</text>
<text x="66.45" y="205.85" font-size="8.5" fill="#222" stroke="#222" stroke-width="0.08" text-anchor="middle" textLength="12.15" lengthAdjust="spacingAndGlyphs">477</text>
<text x="85.60" y="205.85" font-size="8.5" fill="#222" stroke="#222" stroke-width="0.08" text-anchor="middle" textLength="12.15" lengthAdjust="spacingAndGlyphs">475</text>
<text x="104.75" y="205.85" font-size="8.5" fill="#222" stroke="#222" stroke-width="0.08" text-anchor="middle" textLength="12.15" lengthAdjust="spacingAndGlyphs">474</text>
<text x="123.90" y="205.85" font-size="8.5" fill="#222" stroke="#222" stroke-width="0.08" text-anchor="middle" textLength="12.15" lengthAdjust="spacingAndGlyphs">474</text>
<text x="143.05" y="205.85" font-size="8.5" fill="#222" stroke="#222" stroke-width="0.08" text-anchor="middle" textLength="12.15" lengthAdjust="spacingAndGlyphs">473</text>
<text x="162.20" y="205.85" font-size="8.5" fill="#222" stroke="#222" stroke-width="0.08" text-anchor="middle" textLength="12.15" lengthAdjust="spacingAndGlyphs">473</text>
<path d="M45.20,23.00H160.70" stroke="#be0a22" stroke-width="1.3" fill="none"/>
<path d="M160.70,21.40V24.60" stroke="#be0a22" stroke-width="1.1" fill="none"/>
<path d="M45.20,23.00H97.20V23.90H124.20V26.30H138.60V27.80H149.70V29.50H160.70" stroke="#0f4a80" stroke-width="1.3" fill="none"/>
<path d="M160.70,27.90V31.10" stroke="#0f4a80" stroke-width="1.1" fill="none"/>
<path d="M45.20,23.00H73.40V24.80H111.60V26.00H126.50V27.30H141.20V28.80H160.70" stroke="#1aa836" stroke-width="1.3" fill="none"/>
<path d="M160.70,27.20V30.40" stroke="#1aa836" stroke-width="1.1" fill="none"/>
<path d="M45.20,23.00H70.70V24.00H160.70" stroke="#5a2478" stroke-width="1.3" fill="none"/>
<path d="M160.70,22.40V25.60" stroke="#5a2478" stroke-width="1.1" fill="none"/>
</g>
<g transform="translate(261.0,217.7)">
<text x="6.00" y="15.10" font-size="10.8" fill="#000" textLength="8.00" lengthAdjust="spacingAndGlyphs" font-weight="bold">E</text>
<path d="M68.10,12.1H75.90M72.00,10.6V13.6" stroke="#be0a22" stroke-width="1.5" fill="none"/>
<text x="78.10" y="15.00" font-size="8.2" fill="#333" stroke="#333" stroke-width="0.08">1</text>
<path d="M87.50,12.1H95.30M91.40,10.6V13.6" stroke="#053d76" stroke-width="1.5" fill="none"/>
<text x="97.50" y="15.00" font-size="8.2" fill="#333" stroke="#333" stroke-width="0.08">2</text>
<path d="M106.90,12.1H114.70M110.80,10.6V13.6" stroke="#1aa836" stroke-width="1.5" fill="none"/>
<text x="116.90" y="15.00" font-size="8.2" fill="#333" stroke="#333" stroke-width="0.08">3</text>
<path d="M126.30,12.1H134.10M130.20,10.6V13.6" stroke="#4c1264" stroke-width="1.5" fill="none"/>
<text x="136.30" y="15.00" font-size="8.2" fill="#333" stroke="#333" stroke-width="0.08">4</text>
<path d="M41.4,18.0V130.9H167.8" stroke="#111" stroke-width="1.15" fill="none"/>
<path d="M38.7,125.90H41.4" stroke="#222" stroke-width="1.0"/>
<text x="35.70" y="128.50" font-size="9.0" fill="#333" stroke="#333" stroke-width="0.08" text-anchor="end" textLength="15.40" lengthAdjust="spacingAndGlyphs">0.00</text>
<path d="M38.7,100.20H41.4" stroke="#222" stroke-width="1.0"/>
<text x="35.70" y="102.80" font-size="9.0" fill="#333" stroke="#333" stroke-width="0.08" text-anchor="end" textLength="15.40" lengthAdjust="spacingAndGlyphs">0.25</text>
<path d="M38.7,74.50H41.4" stroke="#222" stroke-width="1.0"/>
<text x="35.70" y="77.10" font-size="9.0" fill="#333" stroke="#333" stroke-width="0.08" text-anchor="end" textLength="15.40" lengthAdjust="spacingAndGlyphs">0.50</text>
<path d="M38.7,48.80H41.4" stroke="#222" stroke-width="1.0"/>
<text x="35.70" y="51.40" font-size="9.0" fill="#333" stroke="#333" stroke-width="0.08" text-anchor="end" textLength="15.40" lengthAdjust="spacingAndGlyphs">0.75</text>
<path d="M38.7,23.10H41.4" stroke="#222" stroke-width="1.0"/>
<text x="35.70" y="25.70" font-size="9.0" fill="#333" stroke="#333" stroke-width="0.08" text-anchor="end" textLength="14.80" lengthAdjust="spacingAndGlyphs">1.00</text>
<path d="M47.30,130.9V133.9" stroke="#222" stroke-width="1.0"/>
<text x="47.30" y="143.20" font-size="9.0" fill="#333" stroke="#333" stroke-width="0.08" text-anchor="middle" textLength="4.40" lengthAdjust="spacingAndGlyphs">0</text>
<path d="M66.45,130.9V133.9" stroke="#222" stroke-width="1.0"/>
<text x="66.45" y="143.20" font-size="9.0" fill="#333" stroke="#333" stroke-width="0.08" text-anchor="middle" textLength="4.40" lengthAdjust="spacingAndGlyphs">5</text>
<path d="M85.60,130.9V133.9" stroke="#222" stroke-width="1.0"/>
<text x="85.60" y="143.20" font-size="9.0" fill="#333" stroke="#333" stroke-width="0.08" text-anchor="middle" textLength="8.80" lengthAdjust="spacingAndGlyphs">10</text>
<path d="M104.75,130.9V133.9" stroke="#222" stroke-width="1.0"/>
<text x="104.75" y="143.20" font-size="9.0" fill="#333" stroke="#333" stroke-width="0.08" text-anchor="middle" textLength="8.80" lengthAdjust="spacingAndGlyphs">15</text>
<path d="M123.90,130.9V133.9" stroke="#222" stroke-width="1.0"/>
<text x="123.90" y="143.20" font-size="9.0" fill="#333" stroke="#333" stroke-width="0.08" text-anchor="middle" textLength="8.80" lengthAdjust="spacingAndGlyphs">20</text>
<path d="M143.05,130.9V133.9" stroke="#222" stroke-width="1.0"/>
<text x="143.05" y="143.20" font-size="9.0" fill="#333" stroke="#333" stroke-width="0.08" text-anchor="middle" textLength="8.80" lengthAdjust="spacingAndGlyphs">25</text>
<path d="M162.20,130.9V133.9" stroke="#222" stroke-width="1.0"/>
<text x="162.20" y="143.20" font-size="9.0" fill="#333" stroke="#333" stroke-width="0.08" text-anchor="middle" textLength="8.80" lengthAdjust="spacingAndGlyphs">30</text>
<text x="68.20" y="156.20" font-size="10.0" fill="#222" stroke="#222" stroke-width="0.08" textLength="77.00" lengthAdjust="spacingAndGlyphs">Time (days from +PCR)</text>
<text x="43.80" y="167.30" font-size="7.5" fill="#222" stroke="#222" stroke-width="0.08" textLength="48.50" lengthAdjust="spacingAndGlyphs">Number at risk</text>
<text transform="translate(13.8,75.7) rotate(-90)" x="0" y="0" font-size="9.5" fill="#333" stroke="#333" stroke-width="0.2" text-anchor="middle" textLength="71.6" lengthAdjust="spacingAndGlyphs">Probability of survival</text>
<text x="48.50" y="119.00" font-size="8.5" fill="#222" stroke="#222" stroke-width="0.08" textLength="37.80" lengthAdjust="spacingAndGlyphs">p &lt; 0.0001</text>
<rect x="30.9" y="175.30" width="7.9" height="2.9" rx="0.7" fill="#be0a22"/>
<text x="47.30" y="179.35" font-size="8.5" fill="#222" stroke="#222" stroke-width="0.08" text-anchor="middle" textLength="8.10" lengthAdjust="spacingAndGlyphs">83</text>
<text x="66.45" y="179.35" font-size="8.5" fill="#222" stroke="#222" stroke-width="0.08" text-anchor="middle" textLength="8.10" lengthAdjust="spacingAndGlyphs">82</text>
<text x="85.60" y="179.35" font-size="8.5" fill="#222" stroke="#222" stroke-width="0.08" text-anchor="middle" textLength="8.10" lengthAdjust="spacingAndGlyphs">82</text>
<text x="104.75" y="179.35" font-size="8.5" fill="#222" stroke="#222" stroke-width="0.08" text-anchor="middle" textLength="8.10" lengthAdjust="spacingAndGlyphs">78</text>
<text x="123.90" y="179.35" font-size="8.5" fill="#222" stroke="#222" stroke-width="0.08" text-anchor="middle" textLength="8.10" lengthAdjust="spacingAndGlyphs">76</text>
<text x="143.05" y="179.35" font-size="8.5" fill="#222" stroke="#222" stroke-width="0.08" text-anchor="middle" textLength="8.10" lengthAdjust="spacingAndGlyphs">75</text>
<text x="162.20" y="179.35" font-size="8.5" fill="#222" stroke="#222" stroke-width="0.08" text-anchor="middle" textLength="8.10" lengthAdjust="spacingAndGlyphs">74</text>
<rect x="30.9" y="184.15" width="7.9" height="2.9" rx="0.7" fill="#053d76"/>
<text x="47.30" y="188.20" font-size="8.5" fill="#222" stroke="#222" stroke-width="0.08" text-anchor="middle" textLength="12.15" lengthAdjust="spacingAndGlyphs">106</text>
<text x="66.45" y="188.20" font-size="8.5" fill="#222" stroke="#222" stroke-width="0.08" text-anchor="middle" textLength="12.15" lengthAdjust="spacingAndGlyphs">103</text>
<text x="85.60" y="188.20" font-size="8.5" fill="#222" stroke="#222" stroke-width="0.08" text-anchor="middle" textLength="8.10" lengthAdjust="spacingAndGlyphs">99</text>
<text x="104.75" y="188.20" font-size="8.5" fill="#222" stroke="#222" stroke-width="0.08" text-anchor="middle" textLength="8.10" lengthAdjust="spacingAndGlyphs">98</text>
<text x="123.90" y="188.20" font-size="8.5" fill="#222" stroke="#222" stroke-width="0.08" text-anchor="middle" textLength="8.10" lengthAdjust="spacingAndGlyphs">98</text>
<text x="143.05" y="188.20" font-size="8.5" fill="#222" stroke="#222" stroke-width="0.08" text-anchor="middle" textLength="8.10" lengthAdjust="spacingAndGlyphs">96</text>
<text x="162.20" y="188.20" font-size="8.5" fill="#222" stroke="#222" stroke-width="0.08" text-anchor="middle" textLength="8.10" lengthAdjust="spacingAndGlyphs">95</text>
<rect x="30.9" y="192.95" width="7.9" height="2.9" rx="0.7" fill="#1aa836"/>
<text x="47.30" y="197.00" font-size="8.5" fill="#222" stroke="#222" stroke-width="0.08" text-anchor="middle" textLength="12.15" lengthAdjust="spacingAndGlyphs">105</text>
<text x="66.45" y="197.00" font-size="8.5" fill="#222" stroke="#222" stroke-width="0.08" text-anchor="middle" textLength="12.15" lengthAdjust="spacingAndGlyphs">105</text>
<text x="85.60" y="197.00" font-size="8.5" fill="#222" stroke="#222" stroke-width="0.08" text-anchor="middle" textLength="12.15" lengthAdjust="spacingAndGlyphs">103</text>
<text x="104.75" y="197.00" font-size="8.5" fill="#222" stroke="#222" stroke-width="0.08" text-anchor="middle" textLength="12.15" lengthAdjust="spacingAndGlyphs">103</text>
<text x="123.90" y="197.00" font-size="8.5" fill="#222" stroke="#222" stroke-width="0.08" text-anchor="middle" textLength="12.15" lengthAdjust="spacingAndGlyphs">102</text>
<text x="143.05" y="197.00" font-size="8.5" fill="#222" stroke="#222" stroke-width="0.08" text-anchor="middle" textLength="12.15" lengthAdjust="spacingAndGlyphs">100</text>
<text x="162.20" y="197.00" font-size="8.5" fill="#222" stroke="#222" stroke-width="0.08" text-anchor="middle" textLength="8.10" lengthAdjust="spacingAndGlyphs">98</text>
<rect x="30.9" y="201.80" width="7.9" height="2.9" rx="0.7" fill="#4c1264"/>
<text x="47.30" y="205.85" font-size="8.5" fill="#222" stroke="#222" stroke-width="0.08" text-anchor="middle" textLength="12.15" lengthAdjust="spacingAndGlyphs">499</text>
<text x="66.45" y="205.85" font-size="8.5" fill="#222" stroke="#222" stroke-width="0.08" text-anchor="middle" textLength="12.15" lengthAdjust="spacingAndGlyphs">498</text>
<text x="85.60" y="205.85" font-size="8.5" fill="#222" stroke="#222" stroke-width="0.08" text-anchor="middle" textLength="12.15" lengthAdjust="spacingAndGlyphs">493</text>
<text x="104.75" y="205.85" font-size="8.5" fill="#222" stroke="#222" stroke-width="0.08" text-anchor="middle" textLength="12.15" lengthAdjust="spacingAndGlyphs">492</text>
<text x="123.90" y="205.85" font-size="8.5" fill="#222" stroke="#222" stroke-width="0.08" text-anchor="middle" textLength="12.15" lengthAdjust="spacingAndGlyphs">491</text>
<text x="143.05" y="205.85" font-size="8.5" fill="#222" stroke="#222" stroke-width="0.08" text-anchor="middle" textLength="12.15" lengthAdjust="spacingAndGlyphs">488</text>
<text x="162.20" y="205.85" font-size="8.5" fill="#222" stroke="#222" stroke-width="0.08" text-anchor="middle" textLength="12.15" lengthAdjust="spacingAndGlyphs">486</text>
<path d="M47.30,23.30H55.50V24.50H88.00V26.70H100.50V29.60H108.20V32.20H134.00V33.20H149.40V34.70H161.40" stroke="#be0a22" stroke-width="1.3" fill="none"/>
<path d="M161.40,33.10V36.30" stroke="#be0a22" stroke-width="1.1" fill="none"/>
<path d="M47.30,23.70H54.40V25.20H58.20V25.90H69.40V27.10H77.50V28.50H81.50V29.70H96.70V31.50H107.30V32.20H138.30V32.70H149.40V34.40H161.40" stroke="#0f4a80" stroke-width="1.3" fill="none"/>
<path d="M161.40,32.80V36.00" stroke="#0f4a80" stroke-width="1.1" fill="none"/>
<path d="M47.30,23.30H66.00V25.40H112.00V26.40H128.00V27.10H137.80V27.90H142.70V28.80H146.50V30.10H161.40" stroke="#1aa836" stroke-width="1.3" fill="none"/>
<path d="M161.40,28.50V31.70" stroke="#1aa836" stroke-width="1.1" fill="none"/>
<path d="M47.30,23.20H65.00V23.60H84.00V24.10H111.00V24.40H138.80V24.90H161.40" stroke="#5a2478" stroke-width="1.3" fill="none"/>
<path d="M130.30,22.80V26.00M153.70,23.30V26.50M161.40,23.30V26.50" stroke="#5a2478" stroke-width="1.1" fill="none"/>
</g>
<rect x="0.5" y="0.5" width="519" height="429" fill="none" stroke="#000" stroke-width="1.2"/>
</svg>
</body></html>
